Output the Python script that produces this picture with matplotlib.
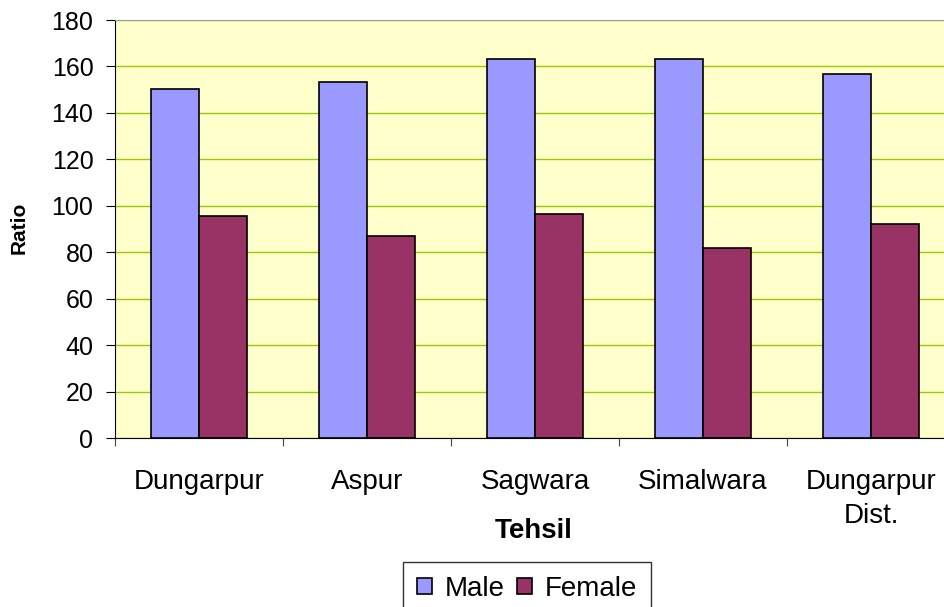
import matplotlib
matplotlib.use("Agg")
import matplotlib.pyplot as plt
import numpy as np

plt.rcParams['font.family'] = ['Liberation Sans', 'DejaVu Sans']

categories = ["Dungarpur", "Aspur", "Sagwara", "Simalwara", "Dungarpur\nDist."]
male = [150.5, 153.3, 163.4, 163.4, 156.7]
female = [95.6, 87.0, 96.5, 81.7, 92.0]
yticks = [0, 20, 40, 60, 80, 100, 120, 140, 160, 180]

W, H = 945, 607
fig = plt.figure(figsize=(W/100, H/100), dpi=100)
ax = fig.add_axes([115/W, 169/H, 840/W, 418/H])
ax.set_facecolor('#FFFFCC')

x = np.arange(len(categories))
w = 1/1.75/2
ax.bar(x - w/2, male, w, color='#9999FF', edgecolor='black', linewidth=1.2, label='Male', zorder=3)
ax.bar(x + w/2, female, w, color='#993366', edgecolor='black', linewidth=1.2, label='Female', zorder=3)

ax.set_xlim(-0.5, len(categories) - 0.5)
ax.set_ylim(0, 180)
ax.set_yticks(yticks)
ax.set_yticklabels([str(v) for v in yticks], fontsize=18)
ax.yaxis.grid(True, color='#99CC00', linewidth=1.0, zorder=0)
ax.set_axisbelow(True)

ax.set_xticks(np.arange(len(categories) + 1) - 0.5)
ax.set_xticklabels([])
ax.set_xticks(x, minor=True)
labels = ax.set_xticklabels(categories, minor=True, fontsize=20)
for t in labels:
    t.set_linespacing(1.4)
ax.tick_params(axis='x', which='major', length=6, direction='out', color='#444444')
ax.tick_params(axis='x', which='minor', length=0, pad=22)
ax.tick_params(axis='y', length=6.5, direction='out', pad=9)

for s in ['top', 'right']:
    ax.spines[s].set_color('#999999')
ax.spines['left'].set_color('black')
ax.spines['bottom'].set_color('black')

fig.text(19.5/W, 1 - 228/H, 'Ratio', fontsize=15, fontweight='bold', rotation=90,
         ha='center', va='center')
fig.text(534/W, 1 - 538/H, 'Tehsil', fontsize=20, fontweight='bold',
         ha='center', va='baseline')

leg = fig.legend(loc='upper center', bbox_to_anchor=(527/W, 1 - 562/H), ncol=2, fontsize=20,
                 frameon=True, fancybox=False, edgecolor='black', handlelength=0.54,
                 handleheight=0.54, handletextpad=0.46, columnspacing=0.46, borderpad=0.5,
                 borderaxespad=0)
leg.get_frame().set_linewidth(1.0)
for p in leg.get_patches():
    p.set_linewidth(1.2)

fig.savefig('out.png', dpi=100)
